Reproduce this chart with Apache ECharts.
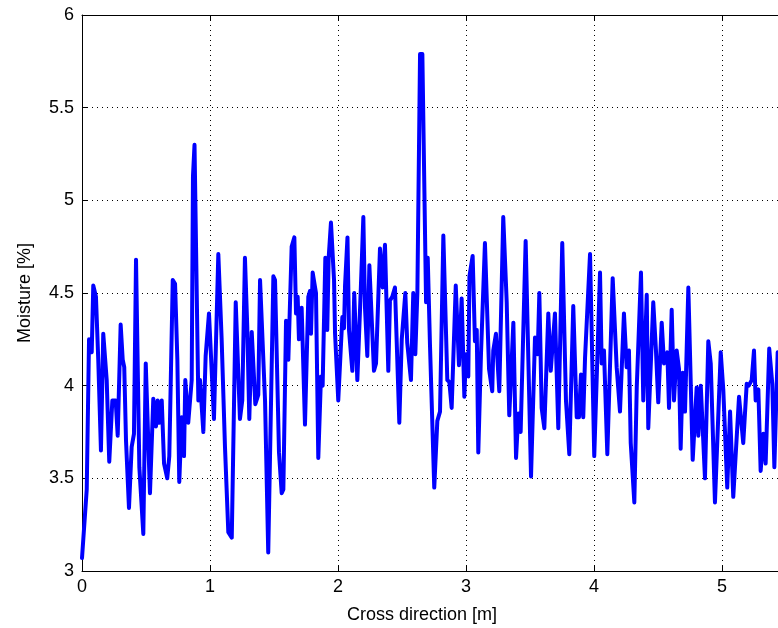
<!DOCTYPE html>
<html>
<head>
<meta charset="utf-8">
<script src="https://cdn.jsdelivr.net/npm/echarts@6/dist/echarts.min.js"></script>
<style>html,body{margin:0;padding:0;background:#fff;}#c{width:778px;height:628px;}</style>
</head>
<body>
<div id="c"></div>
<script>
var xValues = [0.000,0.010,0.037,0.055,0.076,0.088,0.109,0.127,0.148,0.166,0.193,0.213,0.237,0.263,0.279,0.302,0.318,0.330,0.344,0.367,0.388,0.406,0.422,0.448,0.479,0.498,0.531,0.557,0.578,0.591,0.604,0.623,0.641,0.666,0.682,0.709,0.727,0.745,0.760,0.779,0.797,0.807,0.830,0.857,0.867,0.879,0.909,0.922,0.948,0.966,0.992,1.031,1.065,1.091,1.117,1.143,1.170,1.201,1.213,1.234,1.252,1.273,1.291,1.307,1.326,1.338,1.354,1.377,1.391,1.404,1.430,1.455,1.495,1.508,1.539,1.560,1.573,1.594,1.612,1.638,1.659,1.672,1.685,1.695,1.716,1.742,1.768,1.781,1.789,1.802,1.828,1.846,1.867,1.880,1.901,1.916,1.927,1.945,1.969,1.977,2.002,2.021,2.034,2.047,2.055,2.074,2.086,2.112,2.127,2.151,2.177,2.198,2.211,2.229,2.245,2.255,2.281,2.297,2.328,2.349,2.367,2.393,2.406,2.424,2.445,2.479,2.498,2.526,2.541,2.570,2.588,2.604,2.620,2.641,2.659,2.688,2.701,2.719,2.752,2.776,2.797,2.823,2.854,2.870,2.888,2.920,2.945,2.966,2.987,3.000,3.018,3.027,3.052,3.070,3.084,3.096,3.117,3.148,3.180,3.205,3.213,3.234,3.260,3.291,3.318,3.338,3.370,3.391,3.409,3.427,3.466,3.508,3.539,3.560,3.573,3.591,3.612,3.643,3.662,3.695,3.721,3.752,3.781,3.807,3.838,3.865,3.883,3.898,3.916,3.930,3.969,4.002,4.047,4.060,4.078,4.104,4.146,4.177,4.203,4.234,4.255,4.273,4.287,4.315,4.334,4.367,4.385,4.412,4.424,4.463,4.484,4.502,4.529,4.547,4.573,4.586,4.607,4.625,4.646,4.664,4.677,4.693,4.711,4.737,4.771,4.802,4.815,4.834,4.867,4.893,4.912,4.945,4.990,5.010,5.041,5.063,5.088,5.133,5.166,5.193,5.209,5.232,5.250,5.263,5.284,5.302,5.323,5.341,5.369,5.393,5.409,5.435,5.460];
var moisture = [3.07,3.08,3.44,4.25,4.18,4.54,4.48,4.14,3.65,4.28,4.03,3.59,3.92,3.92,3.73,4.33,4.14,4.10,3.70,3.34,3.67,3.74,4.68,3.56,3.20,4.12,3.42,3.93,3.78,3.92,3.80,3.92,3.58,3.50,3.62,4.57,4.55,4.14,3.48,3.83,3.62,4.03,3.80,4.03,5.13,5.30,3.92,4.03,3.75,4.16,4.39,3.82,4.71,4.25,3.67,3.21,3.18,4.45,4.44,3.82,3.92,4.69,4.32,3.82,4.29,4.28,3.90,3.95,4.57,4.58,3.92,3.10,4.59,4.57,3.64,3.42,3.44,4.35,4.14,4.75,4.80,4.39,4.48,4.25,4.42,3.79,4.48,4.51,4.28,4.61,4.50,3.61,4.05,4.00,4.69,4.30,4.69,4.88,4.57,4.28,3.92,4.19,4.37,4.31,4.54,4.80,4.30,4.08,4.50,4.03,4.50,4.91,4.42,4.16,4.65,4.64,4.08,4.12,4.74,4.53,4.76,4.08,4.46,4.48,4.53,3.80,4.25,4.50,4.23,4.03,4.50,4.17,4.50,5.79,5.79,4.45,4.69,4.21,3.45,3.81,3.86,4.81,4.03,4.02,3.88,4.54,4.11,4.47,3.94,4.17,4.05,4.59,4.70,4.24,4.30,3.64,4.17,4.77,4.09,3.97,4.19,4.28,3.97,4.91,4.45,3.84,4.34,3.61,3.85,3.75,4.78,3.51,4.26,4.17,4.50,3.88,3.77,4.39,4.08,4.39,3.77,4.77,3.92,3.63,4.43,3.83,3.83,4.06,3.83,4.15,4.71,3.62,4.61,4.12,4.19,3.63,4.58,4.10,3.86,4.39,4.10,4.19,3.69,3.37,3.99,4.61,3.92,4.49,3.77,4.45,4.19,3.91,4.34,4.12,4.18,3.88,4.41,3.92,4.19,4.09,3.66,4.07,3.86,4.53,3.60,3.99,3.73,4.00,3.50,4.24,4.12,3.37,4.18,3.98,3.45,3.86,3.40,3.94,3.69,4.01,4.00,4.03,4.19,3.92,3.98,3.54,3.74,3.58,4.20,4.01,3.56,4.18,3.90];
var xTicks = [0, 1, 2, 3, 4, 5];
var yTicks = [3, 3.5, 4, 4.5, 5, 5.5, 6];
var xMax = 5.4375;

var seriesData = xValues.map(function (x, i) { return [x, moisture[i]]; });
var font = 'Liberation Sans, Arial, Helvetica, sans-serif';
var chart = echarts.init(document.getElementById('c'), null, { renderer: 'canvas' });
var gridLine = { show: true, lineStyle: { color: '#000', width: 1, type: [1, 4] } };
chart.setOption({
  animation: false,
  backgroundColor: '#fff',
  title: {
    text: 'Cross direction [m]',
    left: 417, top: 601, textAlign: 'center',
    textStyle: { fontFamily: font, fontSize: 18, fontWeight: 'normal', color: '#000' }
  },
  grid: { left: 82, top: 15, right: 0, bottom: 57, show: false },
  xAxis: [{
    type: 'value', min: 0, max: xMax, interval: 1, position: 'bottom',
    axisLine: { show: true, onZero: false, lineStyle: { color: '#000', width: 1 } },
    axisTick: { show: true, inside: true, length: 6, lineStyle: { color: '#000' } },
    axisLabel: { color: '#000', fontFamily: font, fontSize: 18, margin: 7, showMaxLabel: false,
      formatter: function (v) { return xTicks.indexOf(v) >= 0 ? String(v) : ''; } },
    splitLine: gridLine
  }, {
    type: 'value', min: 0, max: xMax, interval: 1, position: 'top',
    axisLine: { show: true, onZero: false, lineStyle: { color: '#000', width: 1 } },
    axisTick: { show: true, inside: true, length: 6, lineStyle: { color: '#000' } },
    axisLabel: { show: false }, splitLine: { show: false }
  }],
  yAxis: {
    type: 'value', min: 3, max: 6, interval: 0.5,
    name: 'Moisture [%]', nameLocation: 'middle', nameGap: 48, nameRotate: 90,
    nameTextStyle: { color: '#000', fontFamily: font, fontSize: 18 },
    axisLine: { show: true, onZero: false, lineStyle: { color: '#000', width: 1 } },
    axisTick: { show: true, inside: true, length: 6, lineStyle: { color: '#000' } },
    axisLabel: { color: '#000', fontFamily: font, fontSize: 18, margin: 8,
      formatter: function (v) { return yTicks.indexOf(v) >= 0 ? String(v) : ''; } },
    splitLine: gridLine
  },
  series: [{
    type: 'line', xAxisIndex: 0, data: seriesData, showSymbol: false, symbol: 'none',
    lineStyle: { color: '#0000ff', width: 4, join: 'round', cap: 'round' },
    clip: true
  }]
});
</script>
</body>
</html>
